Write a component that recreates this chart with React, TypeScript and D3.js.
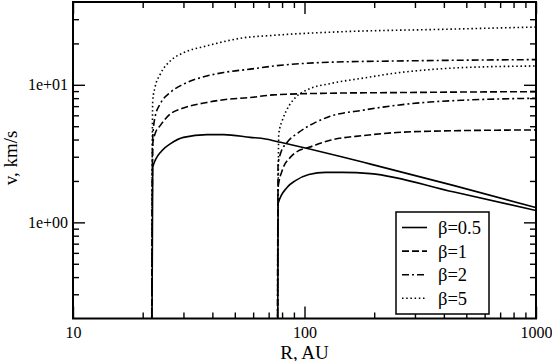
import { useEffect, useRef } from 'react';
import * as d3 from 'd3';

// inner group, dust released at R0 ~ 22 AU
const rInner05 = [21.8, 22.1, 24.2, 26.3, 30.0, 37.9, 44.8, 58.3, 67.8, 78.7, 143, 193, 443, 1000];
const vInner05 = [0.02, 2.52, 3.32, 3.72, 4.15, 4.34, 4.34, 4.15, 4.04, 3.82, 3.01, 2.65, 1.85, 1.28];
const rInner = [21.8, 22.1, 22.6, 23.8, 26.3, 30.0, 37.9, 44.8, 58.3, 73.6, 129, 250, 485, 1000];
const vInner1 = [0.02, 3.72, 4.39, 5.05, 6.13, 6.78, 7.44, 7.79, 8.09, 8.45, 8.69, 8.78, 8.86, 8.92];
const vInner2 = [0.02, 4.15, 5.8, 7.25, 8.8, 10.1, 11.6, 12.3, 13.0, 13.7, 14.6, 14.9, 15.1, 15.25];
const rInner5 = [21.8, 22.1, 22.6, 23.8, 26.3, 30.0, 37.9, 44.8, 52.8, 73.6, 143, 388, 1000];
const vInner5 = [0.02, 7.66, 9.56, 11.9, 14.9, 17.1, 19.2, 20.6, 21.8, 22.9, 24.3, 25.3, 26.3];

// outer group, R0 ~ 76 AU
const rOuter05 = [76.3, 76.9, 84.2, 91.4, 104.4, 123.3, 145.5, 193, 443, 1000];
const vOuter05 = [0.02, 1.37, 1.8, 2.01, 2.23, 2.31, 2.31, 2.26, 1.66, 1.22];
const rOuter1 = [76.3, 76.9, 80.1, 86.9, 94.4, 104.4, 129, 180, 250, 348, 1000];
const vOuter1 = [0.02, 1.8, 2.38, 2.97, 3.32, 3.51, 3.95, 4.28, 4.5, 4.6, 4.7];
const rOuter2 = [76.3, 76.9, 78.7, 84.2, 94.4, 111.5, 129, 180, 250, 348, 485, 1000];
const vOuter2 = [0.02, 2.66, 3.15, 3.82, 4.51, 5.33, 5.9, 6.55, 7.1, 7.5, 7.73, 7.99];
const rOuter5 = [76.3, 77.4, 80.1, 84.2, 91.4, 104.4, 129, 180, 250, 348, 485, 1000];
const vOuter5 = [0.02, 4.39, 5.48, 6.67, 8.09, 9.31, 10.2, 11.2, 12.2, 12.9, 13.35, 13.7];

const betaLabels = ['β=0.5', 'β=1', 'β=2', 'β=5'];
const xMajorTicks = [10, 100, 1000];
const yMajorTicks = [1, 10];
const yTickLabels = ['1e+00', '1e+01'];

const dashes = [null, '7,3', '7,3,2,3', '1.5,2.7'];
const font = "'Liberation Serif', 'Times New Roman', Times, 'Nimbus Roman', FreeSerif, 'DejaVu Serif', serif";

function App() {
  const svgRef = useRef(null);

  useEffect(() => {
    const svg = d3.select(svgRef.current);
    svg.selectAll('*').remove();

    const left = 73, right = 536, top = 2, bottom = 318.5;
    const x = d3.scaleLog().domain([10, 1000]).range([left, right]);
    const y = d3.scaleLog().domain([0.2, 40]).range([bottom, top]);

    const xMinor = d3.range(2, 10).flatMap((k) => [k * 10, k * 100]);
    const yMinor = [0.3, 0.4, 0.5, 0.6, 0.7, 0.8, 0.9, 2, 3, 4, 5, 6, 7, 8, 9, 20, 30];

    svg.append('defs').append('clipPath').attr('id', 'plot')
      .append('rect').attr('x', left).attr('y', top)
      .attr('width', right - left).attr('height', bottom - top);

    const curves = [
      [rInner05, vInner05, 0], [rInner, vInner1, 1], [rInner, vInner2, 2], [rInner5, vInner5, 3],
      [rOuter05, vOuter05, 0], [rOuter1, vOuter1, 1], [rOuter2, vOuter2, 2], [rOuter5, vOuter5, 3],
    ];

    const line = d3.line()
      .x((d) => x(d[0]))
      .y((d) => y(d[1]))
      .curve(d3.curveMonotoneX);

    const plot = svg.append('g').attr('clip-path', 'url(#plot)');
    curves.forEach(([rs, vs, s]) => {
      plot.append('path')
        .attr('d', line(rs.map((r, i) => [r, vs[i]])))
        .attr('fill', 'none')
        .attr('stroke', '#000')
        .attr('stroke-width', 1.6)
        .attr('stroke-dasharray', dashes[s]);
    });

    // ticks point inwards on every side
    const axis = (gen, scale, vals, size, tx, ty, labels) => {
      const a = gen(scale).tickValues(vals).tickSize(-size);
      if (labels) a.tickFormat((d, i) => labels[i]).tickPadding(gen === d3.axisBottom ? 8 : 5);
      else a.tickFormat(() => '');
      const g = svg.append('g').attr('transform', `translate(${tx},${ty})`).call(a);
      g.attr('font-family', null);
      g.select('.domain').remove();
      g.selectAll('.tick line').attr('stroke-width', 1.4);
      g.selectAll('text').style('font-family', font).style('font-size', '16px').attr('fill', '#000');
    };

    axis(d3.axisBottom, x, xMinor, 6, 0, bottom);
    axis(d3.axisBottom, x, xMajorTicks, 12, 0, bottom, xMajorTicks.map(String));
    axis(d3.axisTop, x, xMinor, 6, 0, top);
    axis(d3.axisTop, x, xMajorTicks, 12, 0, top);
    axis(d3.axisLeft, y, yMinor, 6, left, 0);
    axis(d3.axisLeft, y, yMajorTicks, 12, left, 0, yTickLabels);
    axis(d3.axisRight, y, yMinor, 6, right, 0);
    axis(d3.axisRight, y, yMajorTicks, 12, right, 0);

    svg.append('rect')
      .attr('x', left).attr('y', top)
      .attr('width', right - left).attr('height', bottom - top)
      .attr('fill', 'none').attr('stroke', '#000').attr('stroke-width', 2);

    svg.append('text')
      .attr('x', (left + right) / 2).attr('y', 358.5)
      .attr('text-anchor', 'middle')
      .style('font-family', font).style('font-size', '19px')
      .text('R, AU');

    svg.append('text')
      .attr('transform', 'translate(17,158) rotate(-90)')
      .attr('text-anchor', 'middle')
      .style('font-family', font).style('font-size', '19px')
      .text('v, km/s');

    const legend = svg.append('g');
    legend.append('rect')
      .attr('x', 396).attr('y', 212).attr('width', 93).attr('height', 102)
      .attr('fill', '#fff').attr('stroke', '#000').attr('stroke-width', 1.5);

    betaLabels.forEach((label, i) => {
      const cy = 227.5 + i * 23.6;
      legend.append('line')
        .attr('x1', 402).attr('x2', 427).attr('y1', cy).attr('y2', cy)
        .attr('stroke', '#000').attr('stroke-width', 1.6)
        .attr('stroke-dasharray', dashes[i]);
      legend.append('text')
        .attr('x', 438).attr('y', cy).attr('dy', '0.35em')
        .style('font-family', font).style('font-size', '18.5px')
        .text(label);
    });
  }, []);

  return (
    <svg
      ref={svgRef}
      width={552}
      height={361}
      style={{ position: 'absolute', left: 0, top: 0, background: '#fff' }}
    />
  );
}

export default App;
